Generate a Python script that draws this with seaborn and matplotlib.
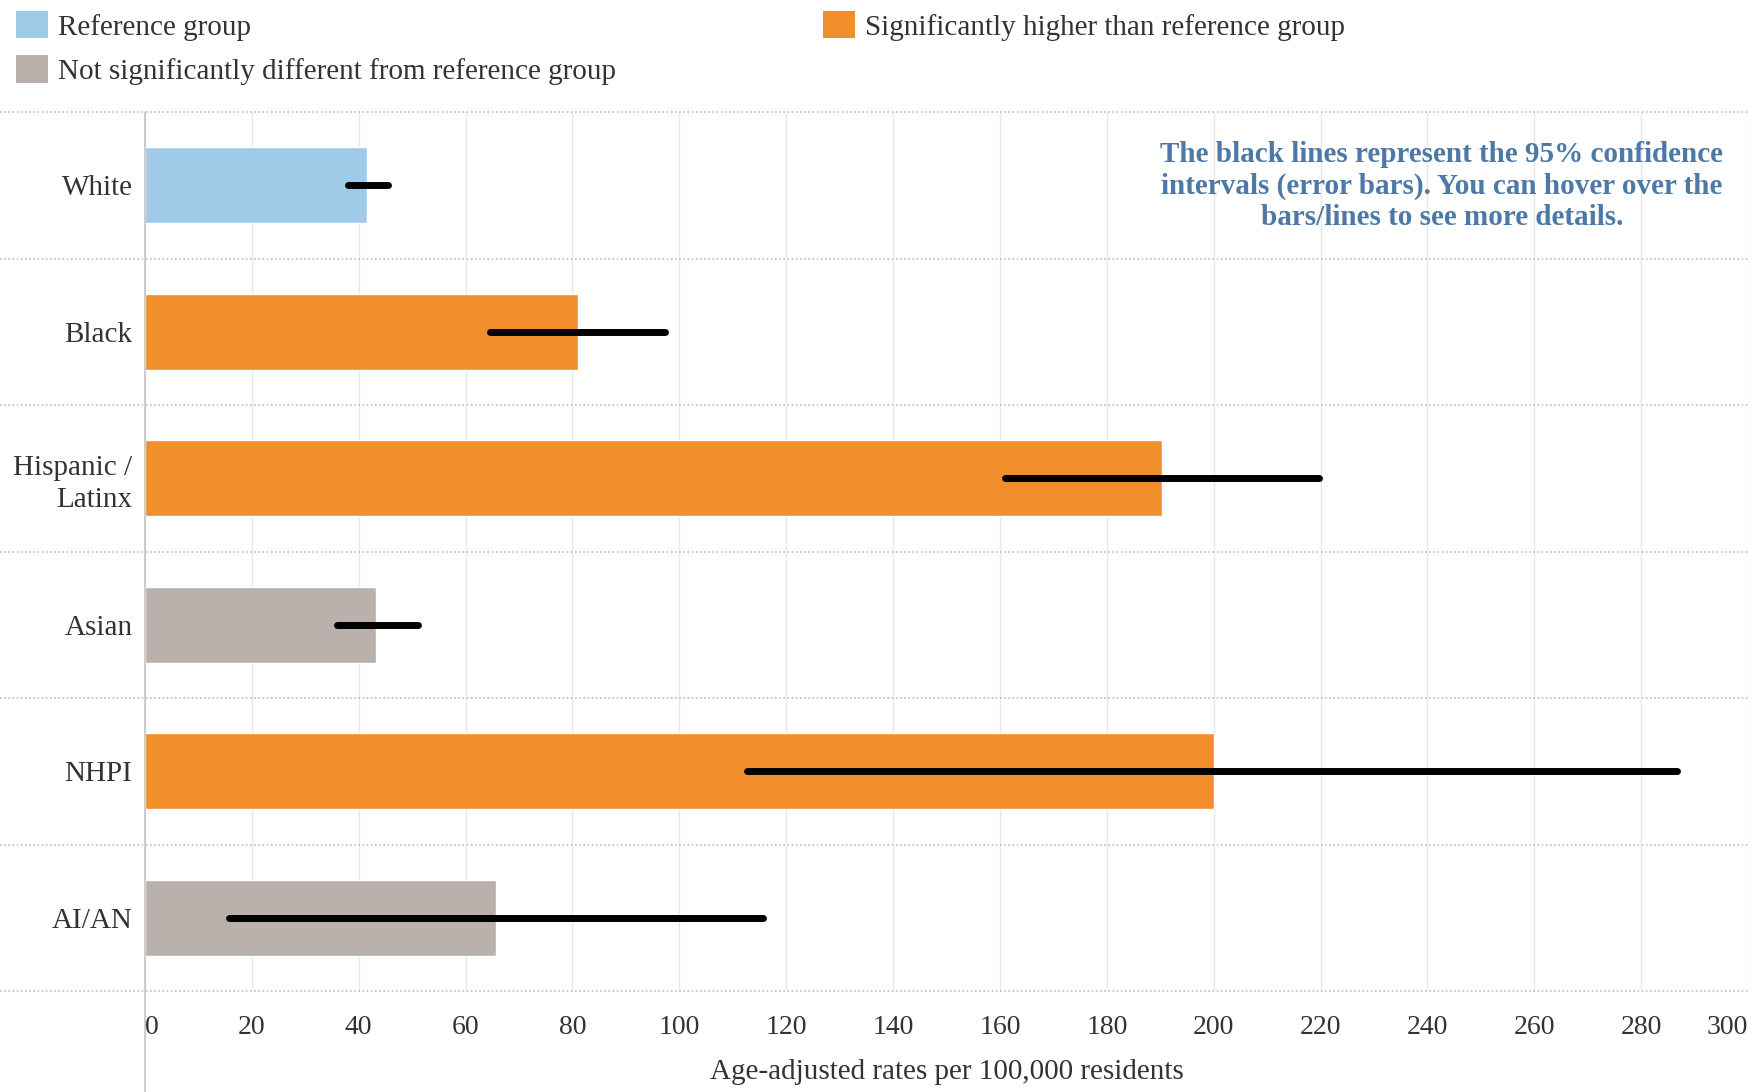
import numpy as np
import pandas as pd
import matplotlib
matplotlib.use('Agg')
import matplotlib.pyplot as plt
from matplotlib.patches import Patch
import seaborn as sns

# ── data ──────────────────────────────────────────────────────────────
GROUPS = ['White', 'Black', 'Hispanic /\nLatinx', 'Asian', 'NHPI', 'AI/AN']
RATES = [41.5, 81.0, 190.4, 43.3, 200.0, 65.7]
CI_LOW = [38.0, 64.5, 161.0, 35.9, 112.7, 15.8]
CI_HIGH = [45.4, 97.4, 219.8, 51.1, 286.7, 115.7]
STATUS = ['Reference group', 'Significantly higher than reference group',
          'Significantly higher than reference group',
          'Not significantly different from reference group',
          'Significantly higher than reference group',
          'Not significantly different from reference group']
X_TICKS = list(range(0, 301, 20))

PALETTE = {
    'Reference group': '#a0cbe8',
    'Significantly higher than reference group': '#f28e2b',
    'Not significantly different from reference group': '#bab0ac',
}
LEGEND_ORDER = ['Reference group',
                'Not significantly different from reference group',
                'Significantly higher than reference group']

TEXT = '#333333'
NOTE = ('The black lines represent the 95% confidence\n'
        'intervals (error bars). You can hover over the\n'
        'bars/lines to see more details.')

sns.set_theme(style='white')
plt.rcParams['font.family'] = ['Liberation Serif', 'DejaVu Serif']

df = pd.DataFrame({'group': GROUPS, 'rate': RATES, 'status': STATUS})

fig = plt.figure(figsize=(17.58, 10.92), dpi=100)
L, R = 145 / 1758, 1748 / 1758
B, T = 1 - 991 / 1092, 1 - 112 / 1092
ax = fig.add_axes([L, B, R - L, T - B])

sns.barplot(data=df, y='group', x='rate', hue='status', palette=PALETTE,
            dodge=False, width=0.52, saturation=1, legend=False, ax=ax,
            orient='h')

# 95% CI lines
ax.hlines(y=np.arange(len(GROUPS)), xmin=CI_LOW, xmax=CI_HIGH,
          color='black', lw=5, zorder=4, capstyle='round')

ax.set_xlim(0, 300)
ax.set_ylim(len(GROUPS) - 0.5, -0.5)
ax.set_xticks(X_TICKS)
ax.set_xticklabels([str(t) for t in X_TICKS])
ax.grid(axis='x', color='#e8e8e8', lw=1)
ax.grid(axis='y', visible=False)
ax.set_axisbelow(True)

for s in ['top', 'right', 'bottom', 'left']:
    ax.spines[s].set_visible(False)

# left axis line runs to the bottom of the figure
ax.axvline(0, ymin=-(1092 - 991) / 879, ymax=1, color='#c4c4c4', lw=1.2,
           clip_on=False, zorder=3)

# dotted row separators across full width
xmin_frac = -L / (R - L)
for yb in np.arange(-0.5, len(GROUPS) + 0.5, 1):
    ax.axhline(yb, xmin=xmin_frac, xmax=1.0, color='#bdbdbd', lw=1.2,
               ls=(0, (1, 1.5)), clip_on=False, zorder=2)

ax.tick_params(axis='x', length=0, pad=17, labelsize=20, labelcolor=TEXT)
ax.tick_params(axis='y', length=0, pad=9, labelsize=21, labelcolor=TEXT)
xlabels = ax.get_xticklabels()
xlabels[0].set_ha('left')
xlabels[-1].set_ha('right')
for lab in ax.get_yticklabels():
    lab.set_linespacing(1.3)
ax.set_ylabel('')
ax.set_xlabel('Age-adjusted rates per 100,000 residents', fontsize=21,
              color=TEXT, labelpad=14)

fig.text(1442 / 1758, 1 - 186 / 1092, NOTE, ha='center', va='center',
         multialignment='center', fontsize=21, fontweight='bold',
         color='#4e79a7', linespacing=1.2)

handles = [Patch(facecolor=PALETTE[k], edgecolor='none') for k in LEGEND_ORDER]
fig.legend(handles, LEGEND_ORDER, ncol=2, loc='upper left',
           bbox_to_anchor=(-4 / 1758, 1 + 9 / 1092), frameon=False,
           fontsize=21, labelcolor=TEXT, handlelength=1.08, handleheight=1.05,
           handletextpad=0.35, columnspacing=7.1, labelspacing=0.5,
           borderpad=0.2)

fig.savefig('out.png', dpi=100, facecolor='white')
